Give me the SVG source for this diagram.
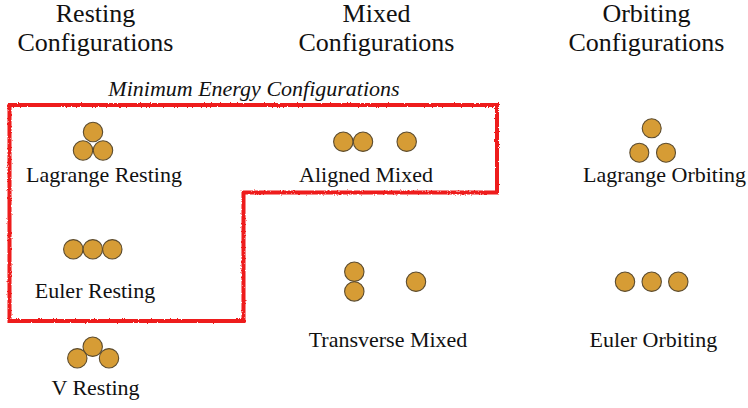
<svg xmlns="http://www.w3.org/2000/svg" width="748" height="408" viewBox="0 0 748 408">
<style>
  .hdr { font-family: "Liberation Serif", "Times New Roman", serif; font-size: 26px; fill: #111; text-anchor: middle; }
  .lbl { font-family: "Liberation Serif", "Times New Roman", serif; font-size: 22px; fill: #111; text-anchor: middle; }
  .ital { font-family: "Liberation Serif", "Times New Roman", serif; font-size: 22px; font-style: italic; fill: #111; text-anchor: middle; }
  .ball { fill: #D69C35; stroke: #5B4B2E; stroke-width: 1.1; }
  .box { fill: none; stroke: #EE1A1A; stroke-width: 4; stroke-linejoin: miter; }
</style>
<defs>
  <filter id="rough" x="-5%" y="-5%" width="110%" height="110%">
    <feTurbulence type="fractalNoise" baseFrequency="0.7" numOctaves="2" seed="3" result="n"/>
    <feDisplacementMap in="SourceGraphic" in2="n" scale="2.6" xChannelSelector="R" yChannelSelector="G"/>
  </filter>
</defs>
<rect width="748" height="408" fill="#fff"/>
<g id="headers">
  <text class="hdr" x="95.5" y="22">Resting</text>
  <text class="hdr" x="95.5" y="51">Configurations</text>
  <text class="hdr" x="376.5" y="22">Mixed</text>
  <text class="hdr" x="376.5" y="51">Configurations</text>
  <text class="hdr" x="646.5" y="22">Orbiting</text>
  <text class="hdr" x="646.5" y="51">Configurations</text>
</g>
<g id="min-energy-region">
  <path class="box" filter="url(#rough)" d="M9.5 105 L497 105 L497 192.5 L243.5 192.5 L243.5 321 L9.5 321 Z"/>
  <text class="ital" x="254" y="96">Minimum Energy Configurations</text>
</g>
<g id="lagrange-resting">
  <circle class="ball" cx="93" cy="132" r="9.7"/>
  <circle class="ball" cx="83" cy="150.5" r="9.7"/>
  <circle class="ball" cx="103" cy="150.5" r="9.7"/>
  <text class="lbl" x="104" y="182">Lagrange Resting</text>
</g>
<g id="aligned-mixed">
  <circle class="ball" cx="343.3" cy="141.7" r="9.7"/>
  <circle class="ball" cx="363" cy="141.7" r="9.7"/>
  <circle class="ball" cx="406.7" cy="141.7" r="9.7"/>
  <text class="lbl" x="366" y="182">Aligned Mixed</text>
</g>
<g id="lagrange-orbiting">
  <circle class="ball" cx="651.7" cy="128.3" r="9.5"/>
  <circle class="ball" cx="639.3" cy="152.7" r="9.5"/>
  <circle class="ball" cx="666" cy="152.7" r="9.5"/>
  <text class="lbl" x="664.5" y="182">Lagrange Orbiting</text>
</g>
<g id="euler-resting">
  <circle class="ball" cx="73.3" cy="249.3" r="9.7"/>
  <circle class="ball" cx="92.8" cy="249.3" r="9.7"/>
  <circle class="ball" cx="112.3" cy="249.3" r="9.7"/>
  <text class="lbl" x="95" y="297.5">Euler Resting</text>
</g>
<g id="transverse-mixed">
  <circle class="ball" cx="354.3" cy="271.7" r="9.7"/>
  <circle class="ball" cx="354.3" cy="291.4" r="9.7"/>
  <circle class="ball" cx="416" cy="281.7" r="9.7"/>
  <text class="lbl" x="388" y="347">Transverse Mixed</text>
</g>
<g id="euler-orbiting">
  <circle class="ball" cx="625" cy="281.7" r="9.7"/>
  <circle class="ball" cx="651.7" cy="281.7" r="9.7"/>
  <circle class="ball" cx="678.3" cy="281.7" r="9.7"/>
  <text class="lbl" x="653.3" y="347">Euler Orbiting</text>
</g>
<g id="v-resting">
  <circle class="ball" cx="92.7" cy="346.7" r="9.7"/>
  <circle class="ball" cx="77.3" cy="358.3" r="9.7"/>
  <circle class="ball" cx="109" cy="358.3" r="9.7"/>
  <text class="lbl" x="95.5" y="395">V Resting</text>
</g>
<g id="connectors"></g>
</svg>
